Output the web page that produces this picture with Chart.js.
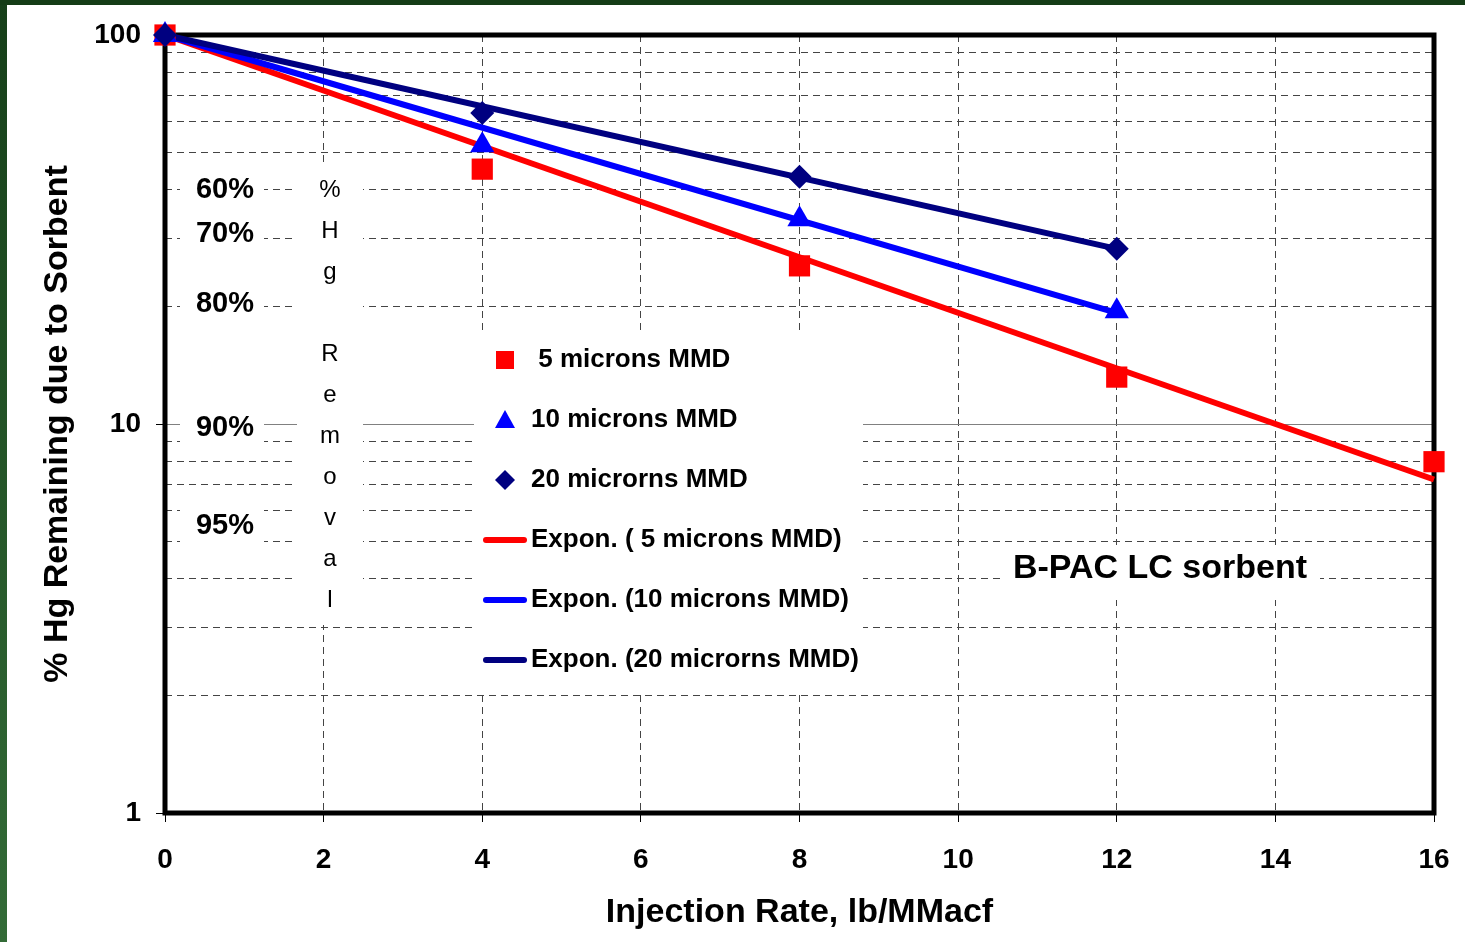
<!DOCTYPE html>
<html>
<head>
<meta charset="utf-8">
<script src="https://cdn.jsdelivr.net/npm/chart.js@4.4.1/dist/chart.umd.min.js"></script>
<style>
  html, body { margin: 0; padding: 0; background: #fff; }
  #edgeLeft { position: absolute; left: 0; top: 0; width: 7px; height: 942px; background: linear-gradient(#163f19, #336b37); }
  #edgeTop { position: absolute; left: 0; top: 0; width: 1465px; height: 5px; background: #143c16; }
  #wrap { position: absolute; left: 7px; top: 5px; width: 1458px; height: 937px; }
</style>
</head>
<body>
<div id="edgeLeft"></div>
<div id="edgeTop"></div>
<div id="wrap"><canvas id="myChart" width="1458" height="937"></canvas></div>
<script>
const FONT = "'Liberation Sans', Arial, sans-serif";

// injection rate, lb/MMacf
const rates = [0, 4, 8, 12, 16];
// % Hg remaining
const mmd5 = [100, 45.2, 25.5, 13.2, 8.0];
const mmd10 = [100, 52.1, 33.6, 19.5];
const mmd20 = [100, 63.0, 43.2, 28.2];

// exponential trend lines (end points)
const fitRates5 = [0, 16];
const fit5 = [100, 7.2];
const fitRates10 = [0, 12];
const fit10 = [100, 19.3];
const fitRates20 = [0, 12];
const fit20 = [100, 28.2];

const xTicks = [0, 2, 4, 6, 8, 10, 12, 14, 16];
const yGrid = [1, 2, 3, 4, 5, 6, 7, 8, 9, 10, 20, 30, 40, 50, 60, 70, 80, 90, 100];
const yLabels = [1, 10, 100];

const removalText = ['60%', '70%', '80%', '90%', '95%'];
const removalAt = [40, 30, 20, 10, 5];
const removalShift = [0, -4, -3, 4, -15];

const pts = (xs, ys) => ys.map((v, i) => ({x: xs[i], y: v}));

const overlay = {
  id: 'overlay',
  beforeDatasetsDraw(chart) {
    const {ctx, chartArea: a, scales: {y}} = chart;
    ctx.save();
    // white label backgrounds
    ctx.fillStyle = '#fff';
    removalAt.forEach((v, i) => {
      const cy = y.getPixelForValue(v) + removalShift[i];
      ctx.fillRect(a.left + 15, cy - 24, 84, 48);
    });
    ctx.fillRect(a.left + 132, a.top + 130, 66, 460);
    ctx.fillRect(a.left + 309, a.top + 295, 389, 360);
    ctx.fillRect(a.left + 838, a.top + 510, 317, 55);

    ctx.fillStyle = '#000';
    ctx.textAlign = 'center';
    ctx.textBaseline = 'middle';
    ctx.font = 'bold 29px ' + FONT;
    removalAt.forEach((v, i) => {
      ctx.fillText(removalText[i], a.left + 60, y.getPixelForValue(v) + removalShift[i]);
    });

    // stacked "% Hg Removal" (Excel drops the first space)
    ctx.font = '24px ' + FONT;
    ctx.textBaseline = 'alphabetic';
    '%Hg Removal'.split('').forEach((c, i) => {
      ctx.fillText(c, a.left + 165, a.top + 162 + 41 * i);
    });

    ctx.font = 'bold 34px ' + FONT;
    ctx.textBaseline = 'middle';
    ctx.fillText('B-PAC LC sorbent', a.left + 995, a.top + 534);

    // legend
    ctx.font = 'bold 26px ' + FONT;
    ctx.textAlign = 'left';
    chart.data.datasets.forEach((ds, i) => {
      const cy = a.top + 325 + 60 * i;
      const cx = a.left + 340;
      ctx.fillStyle = ds.backgroundColor;
      ctx.strokeStyle = ds.borderColor;
      if (ds.showLine) {
        ctx.lineWidth = 6;
        ctx.lineCap = 'round';
        ctx.beginPath();
        ctx.moveTo(cx - 19, cy);
        ctx.lineTo(cx + 19, cy);
        ctx.stroke();
      } else if (ds.pointStyle === 'rect') {
        ctx.fillRect(cx - 9, cy - 9, 18, 18);
      } else if (ds.pointStyle === 'triangle') {
        ctx.beginPath();
        ctx.moveTo(cx, cy - 10);
        ctx.lineTo(cx + 10, cy + 8);
        ctx.lineTo(cx - 10, cy + 8);
        ctx.closePath();
        ctx.fill();
      } else {
        ctx.beginPath();
        ctx.moveTo(cx, cy - 10);
        ctx.lineTo(cx + 10, cy);
        ctx.lineTo(cx, cy + 10);
        ctx.lineTo(cx - 10, cy);
        ctx.closePath();
        ctx.fill();
      }
      ctx.fillStyle = '#000';
      ctx.fillText(ds.label, a.left + 366, cy);
    });

    // plot frame
    ctx.lineWidth = 5;
    ctx.strokeStyle = '#000';
    ctx.strokeRect(a.left, a.top, a.right - a.left, a.bottom - a.top);
    ctx.restore();
  }
};

new Chart('myChart', {
  type: 'scatter',
  data: {
    datasets: [
      {label: ' 5 microns MMD', data: pts(rates, mmd5), pointStyle: 'rect', pointRadius: 15, order: 2,
       backgroundColor: '#ff0000', borderColor: '#ff0000', borderWidth: 0, showLine: false},
      {label: '10 microns MMD', data: pts(rates, mmd10), pointStyle: 'triangle', pointRadius: 14, order: 1,
       backgroundColor: '#0000ff', borderColor: '#0000ff', borderWidth: 0, showLine: false},
      {label: '20 microrns MMD', data: pts(rates, mmd20), pointStyle: 'rectRot', pointRadius: 12, order: 0,
       backgroundColor: '#000080', borderColor: '#000080', borderWidth: 0, showLine: false},
      {label: 'Expon. ( 5 microns MMD)', data: pts(fitRates5, fit5), showLine: true, pointRadius: 0, order: 5,
       borderColor: '#ff0000', backgroundColor: '#ff0000', borderWidth: 6},
      {label: 'Expon. (10 microns MMD)', data: pts(fitRates10, fit10), showLine: true, pointRadius: 0, order: 4,
       borderColor: '#0000ff', backgroundColor: '#0000ff', borderWidth: 6},
      {label: 'Expon. (20 microrns MMD)', data: pts(fitRates20, fit20), showLine: true, pointRadius: 0, order: 3,
       borderColor: '#000080', backgroundColor: '#000080', borderWidth: 6}
    ].map(d => Object.assign(d, {clip: false}))
  },
  options: {
    responsive: false,
    animation: false,
    layout: {padding: {top: 30, right: 31, left: 0, bottom: 0}},
    plugins: {legend: {display: false}, tooltip: {enabled: false}},
    scales: {
      x: {
        type: 'linear', min: 0, max: 16,
        afterBuildTicks: s => { s.ticks = xTicks.map(v => ({value: v})); },
        afterFit: s => { s.height = 129; s.paddingLeft = 0; s.paddingRight = 0; },
        grid: {color: '#444', lineWidth: 1, tickLength: 9, tickColor: '#000'},
        border: {display: false, dash: [7, 5]},
        ticks: {autoSkip: false, maxRotation: 0, padding: 21, color: '#000',
                font: {family: FONT, size: 28, weight: 'bold'}},
        title: {display: true, text: 'Injection Rate, lb/MMacf', color: '#000',
                font: {family: FONT, size: 34, weight: 'bold'}, padding: {top: 0, bottom: 9}}
      },
      y: {
        type: 'logarithmic', min: 1, max: 100,
        afterBuildTicks: s => { s.ticks = yGrid.map(v => ({value: v})); },
        afterFit: s => { s.width = 158; s.paddingTop = 0; s.paddingBottom = 0; },
        grid: {
          color: c => (c.tick && c.tick.value === 10) ? '#808080' : '#444',
          lineWidth: 1, tickLength: 9,
          tickColor: c => (c.tick && yLabels.includes(c.tick.value)) ? '#000' : 'rgba(0,0,0,0)'
        },
        border: {display: false, dash: c => (c.tick && c.tick.value === 10) ? [] : [7, 5]},
        ticks: {autoSkip: false, padding: 15, color: '#000',
                font: {family: FONT, size: 28, weight: 'bold'},
                callback: v => yLabels.includes(v) ? String(v) : ''},
        title: {display: true, text: '% Hg Remaining due to Sorbent', color: '#000',
                font: {family: FONT, size: 34, weight: 'bold'}, padding: {top: 30, bottom: 0}}
      }
    }
  },
  plugins: [overlay]
});
</script>
</body>
</html>
